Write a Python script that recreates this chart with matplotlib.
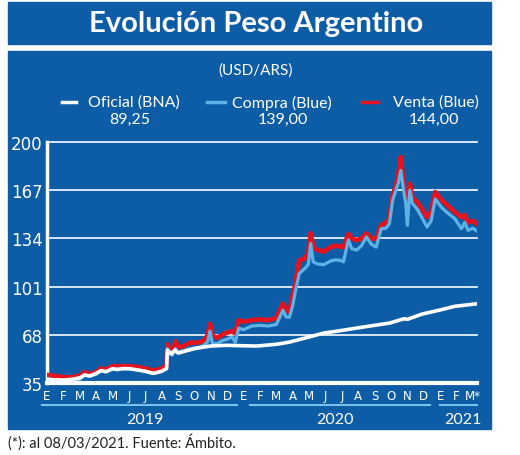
import matplotlib.pyplot as plt
from matplotlib.patches import Rectangle
from matplotlib.lines import Line2D
import matplotlib.transforms as mtransforms

# datos (meses desde enero 2019)
mes_oficial = [0, 0.5, 1.0, 1.5, 2.0, 2.3, 2.6, 3.0, 3.3, 3.6, 4.0, 4.3, 4.6, 5.0, 5.5, 6.0,
               6.5, 7.0, 7.3, 7.35, 7.5, 7.6, 7.8, 8.0, 8.5, 9.0, 9.5, 10.0, 10.5, 11.0, 12.0,
               12.8, 14.0, 14.8, 16.0, 16.9, 18.0, 18.9, 20.0, 20.9, 21.8, 22.0, 22.9, 24.0,
               24.9, 26.25]
oficial = [37.5, 37.2, 37.0, 37.5, 38.5, 40.5, 39.8, 41.5, 43.5, 42.8, 44.8, 44.2, 44.8, 44.8,
           44.0, 43.0, 41.6, 43.0, 45.0, 57.5, 56.0, 55.0, 57.5, 55.5, 57.0, 58.5, 59.5, 60.3,
           60.6, 60.8, 60.5, 60.3, 61.5, 63.0, 66.5, 69.2, 71.0, 72.6, 74.5, 76.0, 79.0, 78.6,
           82.2, 85.0, 87.5, 89.25]

mes_blue = [0.0, 0.5, 1.0, 1.5, 2.0, 2.3, 2.6, 3.0, 3.3, 3.6, 3.9, 4.1, 4.6, 5.0, 5.5, 6.0,
            6.5, 7.0, 7.3, 7.35, 7.5, 7.65, 7.85, 8.0, 8.3, 8.7, 9.0, 9.3, 9.6, 9.8, 9.95,
            10.1, 10.4, 10.7, 11.0, 11.3, 11.5, 11.7, 12.0, 12.5, 13.0, 13.5, 14.0, 14.4,
            14.6, 14.8, 15.0, 15.15, 15.4, 15.7, 15.95, 16.1, 16.25, 16.5, 16.9, 17.3, 17.6,
            17.9, 18.1, 18.4, 18.6, 18.9, 19.2, 19.5, 19.8, 20.1, 20.4, 20.7, 20.9, 21.1,
            21.3, 21.45, 21.6, 21.75, 21.9, 22.0, 22.15, 22.3, 22.6, 22.9, 23.2, 23.45, 23.7,
            24.1, 24.5, 24.9, 25.3, 25.5, 25.7, 26.0, 26.25]
compra = [37.8, 37.0, 36.0, 36.5, 37.5, 40.5, 39.5, 41.0, 43.5, 42.5, 44.0, 44.5, 44.8, 44.8,
          44.0, 43.0, 41.5, 43.0, 44.5, 58.5, 55.0, 54.0, 58.5, 56.0, 57.0, 58.5, 59.0, 59.5,
          61.0, 63.0, 70.5, 62.0, 62.0, 64.0, 65.0, 66.5, 63.0, 72.5, 71.5, 74.0, 74.5, 74.0,
          75.0, 84.8, 80.2, 80.0, 88.0, 97.0, 110.0, 113.0, 116.0, 130.5, 118.0, 116.5, 116.0,
          118.5, 119.3, 119.0, 118.0, 133.0, 127.0, 126.0, 129.0, 135.0, 130.0, 128.0, 140.6,
          141.0, 144.0, 160.0, 167.0, 172.0, 180.6, 168.0, 158.0, 143.0, 167.0, 158.0, 154.0,
          148.0, 141.8, 146.0, 161.0, 155.0, 151.0, 147.5, 140.6, 145.0, 139.5, 141.0, 139.0]
venta = [40.5, 39.8, 39.0, 38.8, 40.0, 42.5, 41.0, 42.5, 45.0, 44.0, 46.0, 46.5, 46.5, 46.5,
         46.0, 45.0, 43.5, 45.0, 47.0, 61.5, 57.0, 56.5, 63.5, 59.5, 60.0, 62.5, 62.5, 63.0,
         64.0, 67.5, 75.5, 67.0, 66.0, 68.0, 69.5, 70.5, 69.0, 78.0, 77.0, 78.0, 78.5, 78.0,
         79.5, 89.3, 84.8, 84.0, 95.0, 102.0, 119.0, 120.0, 124.0, 137.5, 128.0, 126.0, 125.0,
         128.0, 129.0, 128.5, 128.0, 137.0, 134.0, 132.7, 134.0, 137.3, 134.0, 133.8, 143.0,
         145.0, 147.5, 163.4, 170.0, 178.0, 189.7, 172.5, 162.0, 156.6, 171.4, 162.0, 158.9,
         154.0, 148.6, 152.0, 165.7, 160.0, 156.0, 152.0, 148.6, 150.0, 145.0, 146.0, 144.0]

meses = ['E', 'F', 'M', 'A', 'M', 'J', 'J', 'A', 'S', 'O', 'N', 'D',
         'E', 'F', 'M', 'A', 'M', 'J', 'J', 'A', 'S', 'O', 'N', 'D',
         'E', 'F', 'M*']
anios = ['2019', '2020', '2021']
marcas_y = [35, 68, 101, 134, 167, 200]

AZUL = '#0d5da6'
ROJO = '#e3141f'
CELESTE = '#5db3e6'
W, H = 520, 456
ANGOSTA = ['Liberation Sans Narrow', 'DejaVu Sans']


def fx(px):
    return px / W


def fy(py):
    return 1 - py / H


fig = plt.figure(figsize=(5.2, 4.56), dpi=100)
fig.patch.set_facecolor('white')

# fondo azul: banda del titulo y panel
fig.patches.append(Rectangle((fx(8), fy(45)), fx(491) - fx(8), fy(3) - fy(45),
                             transform=fig.transFigure, color=AZUL, zorder=-5))
fig.patches.append(Rectangle((fx(8), fy(430)), fx(491) - fx(8), fy(52) - fy(430),
                             transform=fig.transFigure, color=AZUL, zorder=-5))

fig.text(fx(256), fy(24), 'Evolución Peso Argentino', color='white', fontsize=21,
         fontweight='bold', family='Lato', ha='center', va='center')
fig.text(fx(256), fy(71), '(USD/ARS)', color='white', fontsize=11,
         family='Lato', ha='center', va='center')

# leyenda
leyenda = [(62, 76, 'white', 134, 'Oficial (BNA)', 130, '89,25'),
           (207, 225, CELESTE, 282, 'Compra (Blue)', 283, '139,00'),
           (362, 378, ROJO, 436, 'Venta (Blue)', 434, '144,00')]
for x0, x1, c, xt, txt, xv, val in leyenda:
    fig.lines.append(Line2D([fx(x0), fx(x1)], [fy(103), fy(103)], color=c, lw=2.5,
                            transform=fig.transFigure))
    fig.text(fx(xt), fy(103), txt, color='white', fontsize=11.5, family='Lato',
             ha='center', va='center')
    fig.text(fx(xv), fy(120), val, color='white', fontsize=11.5, family='Lato',
             ha='center', va='center')

ax = fig.add_axes([fx(47), fy(384), fx(477) - fx(47), fy(143) - fy(384)])
ax.patch.set_alpha(0)

ax.plot(mes_blue, venta, color=ROJO, lw=3.4, zorder=3)
ax.plot(mes_blue, compra, color=CELESTE, lw=2.3, zorder=4)
ax.plot(mes_oficial, oficial, color='white', lw=2.6, zorder=5)

ax.set_xlim(0, 26.25)
ax.set_ylim(35, 200)
for v in marcas_y[1:]:
    ax.axhline(v, color='#e6f0fa', lw=1.3, zorder=1, clip_on=False)

for s in ['top', 'right']:
    ax.spines[s].set_visible(False)
ax.spines['left'].set_color('white')
ax.spines['left'].set_linewidth(2.5)
ax.spines['bottom'].set_color('white')
ax.spines['bottom'].set_linewidth(3)
ax.spines['bottom'].set_zorder(6)

ax.set_yticks(marcas_y)
ax.set_yticklabels([str(v) for v in marcas_y], color='white', fontsize=12,
                   family=ANGOSTA)
ax.tick_params(axis='y', length=0, pad=3)

ax.set_xticks(range(len(meses)))
ax.set_xticklabels(meses, color='white', fontsize=8.5, family=ANGOSTA)
ax.tick_params(axis='x', length=0, pad=4)

mezcla = mtransforms.blended_transform_factory(ax.transData, ax.transAxes)
for (a, b), anio, xc in zip([(-0.3, 11.6), (12.4, 23.4), (24.0, 26.25)], anios,
                            [6.0, 17.6, 25.4]):
    ax.plot([a, b], [-0.091, -0.091], color='#7cc0ec', lw=1.5, transform=mezcla,
            clip_on=False)
    ax.text(xc, -0.15, anio, color='white', fontsize=11.5, family='Lato',
            ha='center', va='center', transform=mezcla)

fig.text(fx(8), fy(442), '(*): al 08/03/2021. Fuente: Ámbito.', color='#222222',
         fontsize=10.5, family='Lato', ha='left', va='center')

fig.savefig('out.png', dpi=100)
